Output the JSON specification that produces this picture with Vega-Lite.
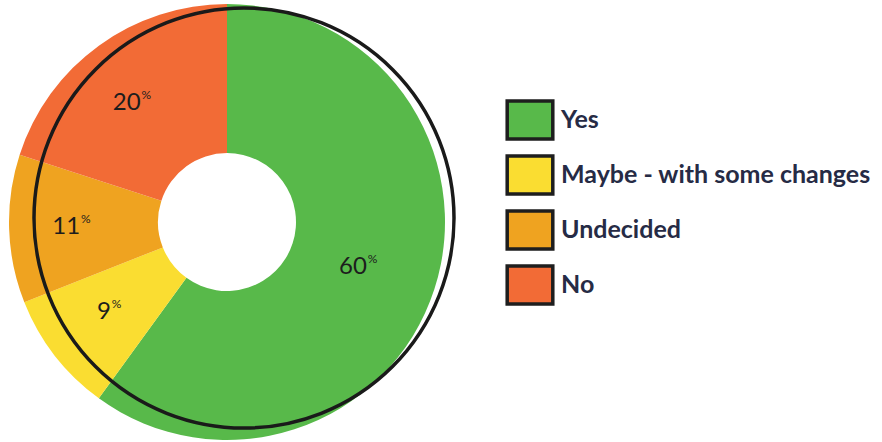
{
  "$schema": "https://vega.github.io/schema/vega-lite/v6.json",
  "width": 454,
  "height": 444,
  "padding": 0,
  "background": "white",
  "config": {"view": {"stroke": null}, "font": "Lato"},
  "data": {"values": [
    {"answer": "Yes", "percent": 60, "rank": 1},
    {"answer": "Maybe - with some changes", "percent": 9, "rank": 2},
    {"answer": "Undecided", "percent": 11, "rank": 3},
    {"answer": "No", "percent": 20, "rank": 4}
  ]},
  "resolve": {"scale": {"theta": "independent"}},
  "layer": [
    {
      "mark": {"type": "arc", "innerRadius": 69, "outerRadius": 218},
      "encoding": {
        "theta": {"field": "percent", "type": "quantitative", "stack": true},
        "order": {"field": "rank", "type": "quantitative"},
        "color": {
          "field": "answer", "type": "nominal",
          "scale": {
            "domain": ["Yes", "Maybe - with some changes", "Undecided", "No"],
            "range": ["#58b94a", "#fadd31", "#efa320", "#f26b36"]
          },
          "legend": {
            "title": null,
            "orient": "none",
            "legendX": 509,
            "legendY": 99,
            "padding": 0,
            "symbolType": "M-1.2,-1H1.2V1H-1.2Z",
            "symbolSize": 1444,
            "symbolStrokeColor": "#1e1e1e",
            "symbolStrokeWidth": 3.5,
            "symbolOpacity": 1,
            "labelFontSize": 25,
            "labelFontWeight": "bold",
            "labelFont": "Lato",
            "labelColor": "#262b45",
            "labelOffset": 10,
            "labelLimit": 400,
            "rowPadding": 3
          }
        }
      }
    },
    {
      "mark": {"type": "text", "radius": 147, "align": "right", "baseline": "middle", "fontSize": 24, "color": "#1d1d1d"},
      "encoding": {
        "theta": {"field": "percent", "type": "quantitative", "stack": true},
        "order": {"field": "rank", "type": "quantitative"},
        "text": {"field": "percent", "type": "quantitative"}
      }
    },
    {
      "mark": {"type": "text", "radius": 147, "align": "left", "baseline": "middle", "fontSize": 12, "dx": 1, "dy": -8, "color": "#1d1d1d"},
      "encoding": {
        "theta": {"field": "percent", "type": "quantitative", "stack": true},
        "order": {"field": "rank", "type": "quantitative"},
        "text": {"value": "%"}
      }
    },
    {
      "data": {"values": [{"v": 1}]},
      "mark": {"type": "arc", "outerRadius": 210, "innerRadius": 0, "fillOpacity": 0, "stroke": "#1a1a1a", "strokeWidth": 3.5, "xOffset": 17, "yOffset": -4},
      "encoding": {
        "theta": {"field": "v", "type": "quantitative"}
      }
    }
  ]
}
